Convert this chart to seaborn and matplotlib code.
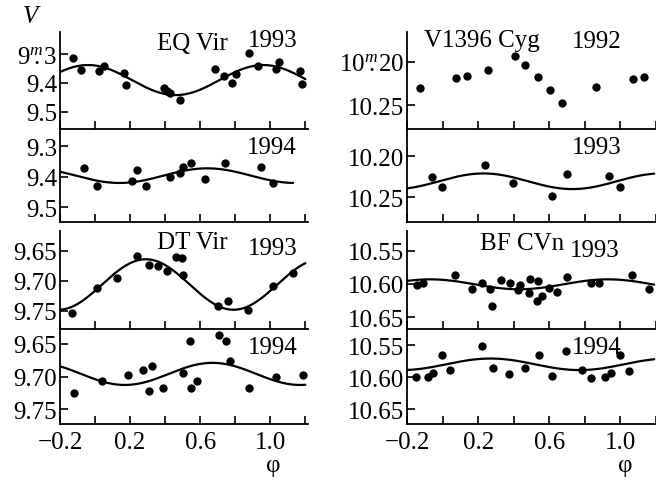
import numpy as np
import pandas as pd
import matplotlib
matplotlib.use("Agg")
import matplotlib.pyplot as plt
import seaborn as sns

# ---------------- data ----------------
# EQ Vir 1993
eq93_phase = [-0.127, -0.08, 0.023, 0.05, 0.166, 0.177, 0.396, 0.41, 0.429, 0.486,
              0.684, 0.733, 0.781, 0.806, 0.876, 0.93, 1.033, 1.047, 1.171, 1.181]
eq93_mag = [9.314, 9.355, 9.358, 9.340, 9.367, 9.406, 9.417, 9.427, 9.436, 9.459,
            9.352, 9.375, 9.401, 9.369, 9.298, 9.340, 9.352, 9.329, 9.360, 9.403]
# EQ Vir 1994
eq94_phase = [-0.063, 0.01, 0.213, 0.242, 0.29, 0.429, 0.486, 0.501, 0.549, 0.629,
              0.739, 0.947, 1.013]
eq94_mag = [9.373, 9.432, 9.416, 9.378, 9.430, 9.403, 9.389, 9.367, 9.357, 9.408,
            9.356, 9.367, 9.421]
# DT Vir 1993
dt93_phase = [-0.133, 0.01, 0.124, 0.242, 0.309, 0.362, 0.41, 0.461, 0.495, 0.499,
              0.699, 0.756, 0.87, 1.013, 1.13]
dt93_mag = [9.754, 9.712, 9.695, 9.659, 9.673, 9.675, 9.683, 9.661, 9.662, 9.690,
            9.742, 9.734, 9.748, 9.709, 9.687]
# DT Vir 1994
dt94_phase = [-0.12, 0.042, 0.187, 0.276, 0.324, 0.31, 0.39, 0.501, 0.543, 0.549,
              0.581, 0.705, 0.747, 0.771, 0.876, 1.033, 1.187]
dt94_mag = [9.725, 9.707, 9.698, 9.690, 9.684, 9.723, 9.718, 9.695, 9.646, 9.718,
            9.707, 9.636, 9.646, 9.676, 9.718, 9.700, 9.697]
# V1396 Cyg 1992
cyg92_phase = [-0.127, 0.074, 0.137, 0.258, 0.407, 0.463, 0.539, 0.603, 0.673, 0.865,
               1.068, 1.13]
cyg92_mag = [10.230, 10.219, 10.216, 10.210, 10.194, 10.204, 10.218, 10.232, 10.247,
             10.229, 10.220, 10.217]
# V1396 Cyg 1993
cyg93_phase = [-0.062, -0.001, 0.24, 0.398, 0.617, 0.701, 0.934, 0.996]
cyg93_mag = [10.225, 10.237, 10.211, 10.233, 10.248, 10.222, 10.224, 10.237]
# BF CVn 1993
bf93_phase = [-0.146, -0.112, 0.068, 0.165, 0.223, 0.264, 0.277, 0.329, 0.381, 0.426,
              0.435, 0.487, 0.491, 0.539, 0.53, 0.558, 0.599, 0.642, 0.701, 0.837,
              0.878, 1.064, 1.161]
bf93_mag = [10.601, 10.599, 10.586, 10.607, 10.598, 10.608, 10.633, 10.594, 10.598,
            10.609, 10.601, 10.613, 10.593, 10.595, 10.626, 10.618, 10.606, 10.612,
            10.589, 10.598, 10.598, 10.586, 10.607]
# BF CVn 1994
bf94_phase = [-0.15, -0.081, -0.056, -0.006, 0.044, 0.223, 0.282, 0.375, 0.465, 0.543,
              0.614, 0.692, 0.782, 0.837, 0.916, 0.949, 0.999, 1.046]
bf94_mag = [10.600, 10.599, 10.594, 10.566, 10.589, 10.551, 10.585, 10.595, 10.586,
            10.566, 10.598, 10.560, 10.589, 10.602, 10.599, 10.594, 10.566, 10.591]

# sinusoidal light-curve fits: mean magnitude, semi-amplitude, phase of minimum light, end phase
eq93_fit = (9.390, 0.052, 0.46, 1.20)
eq94_fit = (9.397, 0.024, 0.14, 1.13)
dt93_fit = (9.706, 0.042, 0.79, 1.20)
dt94_fit = (9.696, 0.017, 0.17, 1.20)
cyg93_fit = (10.2305, 0.0095, 0.73, 1.19)
bf93_fit = (10.6005, 0.0075, 0.43, 1.19)
bf94_fit = (10.580, 0.009, 0.77, 1.19)

x_ticks = [-0.2, 0.0, 0.2, 0.4, 0.6, 0.8, 1.0, 1.2]
x_ticklabels = ["\u22120.2", "", "0.2", "", "0.6", "", "1.0", ""]

# ---------------- style ----------------
sns.set_style("ticks")
plt.rcParams["font.family"] = ["Liberation Serif", "DejaVu Serif"]
plt.rcParams["mathtext.fontset"] = "custom"
plt.rcParams["mathtext.rm"] = "Liberation Serif"
plt.rcParams["mathtext.it"] = "Liberation Serif:italic"
plt.rcParams["axes.unicode_minus"] = True

W, H = 656, 485
fig = plt.figure(figsize=(W / 100, H / 100), dpi=100)


def rect(x0, x1, y0, y1):
    return [x0 / W, 1 - y1 / H, (x1 - x0) / W, (y1 - y0) / H]


rows = [(33, 130), (130, 223), (232, 330), (330, 425)]
cols = [(60, 308, 1.215), (407, 656, 1.19)]

panels = [
    # col, row, phase, mag, fit, ylim(bottom,top), yticks, ylabels
    (0, 0, eq93_phase, eq93_mag, eq93_fit, (9.559, 9.224), [9.3, 9.4, 9.5],
     [r"$9^{m}\!\!\!.3$", "9.4", "9.5"]),
    (0, 1, eq94_phase, eq94_mag, eq94_fit, (9.549, 9.244), [9.3, 9.4, 9.5],
     ["9.3", "9.4", "9.5"]),
    (0, 2, dt93_phase, dt93_mag, dt93_fit, (9.780, 9.617), [9.65, 9.70, 9.75],
     ["9.65", "9.70", "9.75"]),
    (0, 3, dt94_phase, dt94_mag, dt94_fit, (9.773, 9.627), [9.65, 9.70, 9.75],
     ["9.65", "9.70", "9.75"]),
    (1, 0, cyg92_phase, cyg92_mag, None, (10.277, 10.166), [10.20, 10.25],
     [r"$10^{m}\!\!\!.20$", "10.25"]),
    (1, 1, cyg93_phase, cyg93_mag, cyg93_fit, (10.280, 10.167), [10.20, 10.25],
     ["10.20", "10.25"]),
    (1, 2, bf93_phase, bf93_mag, bf93_fit, (10.668, 10.520), [10.55, 10.60, 10.65],
     ["10.55", "10.60", "10.65"]),
    (1, 3, bf94_phase, bf94_mag, bf94_fit, (10.673, 10.525), [10.55, 10.60, 10.65],
     ["10.55", "10.60", "10.65"]),
]

for c, r, ph, mag, fit, ylim, yt, yl in panels:
    x0, x1, xr = cols[c]
    y0, y1 = rows[r]
    ax = fig.add_axes(rect(x0, x1, y0, y1))
    ax.set_facecolor("none")
    df = pd.DataFrame({"phase": ph, "mag": mag})
    sns.scatterplot(data=df, x="phase", y="mag", ax=ax, color="black", s=36,
                    linewidth=0, zorder=3, clip_on=False)
    if fit is not None:
        m, a, p, end = fit
        grid = np.linspace(-0.2, end, 400)
        curve = m + a * np.cos(2 * np.pi * (grid - p))
        sns.lineplot(x=grid, y=curve, ax=ax, color="black", linewidth=1.6, zorder=2)
    ax.set_xlim(-0.2, xr)
    ax.set_ylim(*ylim)
    ax.set_xticks(x_ticks)
    if r == 3:
        ax.set_xticklabels(x_ticklabels)
    else:
        ax.set_xticklabels([""] * len(x_ticks))
    ax.set_yticks(yt)
    ax.set_yticklabels(yl)
    ax.set_xlabel("")
    ax.set_ylabel("")
    for s in ("top", "right"):
        ax.spines[s].set_visible(False)
    for s in ("left", "bottom"):
        ax.spines[s].set_linewidth(1.3)
        ax.spines[s].set_color("black")
    ax.tick_params(axis="both", direction="in", length=6, width=1.2, colors="black",
                   labelsize=18)
    ax.tick_params(axis="y", pad=2)
    ax.tick_params(axis="x", pad=5)


def txt(x, y, s, **kw):
    fig.text(x / W, 1 - y / H, s, ha="center", va="center", fontsize=18,
             color="black", **kw)


txt(30, 17, "V", style="italic")
txt(192, 44, "EQ Vir")
txt(273, 41, "1993")
txt(272, 148, "1994")
txt(192, 243, "DT Vir")
txt(273, 249, "1993")
txt(273, 348, "1994")
txt(273, 466, "\u03c6")
txt(482, 41, "V1396 Cyg")
txt(597, 42, "1992")
txt(597, 148, "1993")
txt(522, 244, "BF CVn")
txt(595, 251, "1993")
txt(597, 348, "1994")
txt(625, 466, "\u03c6")

fig.savefig("out.png", dpi=100)
